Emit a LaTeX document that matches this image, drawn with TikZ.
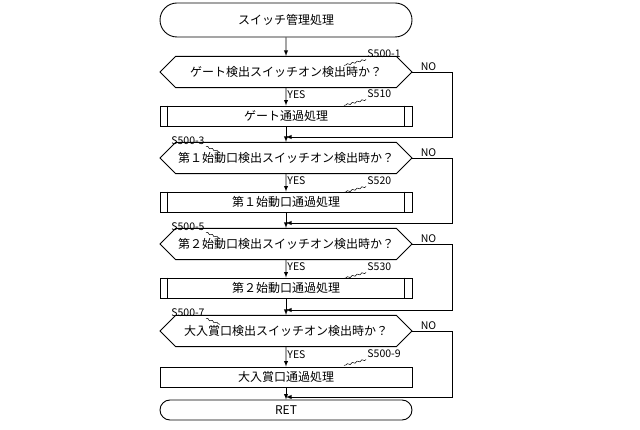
\documentclass[tikz,border=0pt]{standalone}
\usepackage{fontspec}
\setmainfont{Noto Sans CJK JP}
\usetikzlibrary{shapes.misc,decorations.pathmorphing}
\begin{document}
\begin{tikzpicture}[x=1pt,y=-1pt,font=\fontsize{12}{13}\selectfont,line width=0.9pt,
 term/.style={draw,rounded rectangle,minimum width=252pt,minimum height=34pt,inner sep=0pt},
 term2/.style={draw,rounded rectangle,minimum width=252pt,minimum height=20pt,inner sep=0pt},
 dec/.style={draw,chamfered rectangle,chamfered rectangle xsep=16pt,chamfered rectangle ysep=10pt,minimum width=252pt,minimum height=20pt,inner sep=0pt},
 proc/.style={draw,minimum width=252pt,minimum height=20pt,inner sep=0pt},
 sub/.style={proc,append after command={\pgfextra{\draw (\tikzlastnode.north west)++(8pt,0)--++(0,-20pt);\draw (\tikzlastnode.north east)++(-8pt,0)--++(0,-20pt);}}},
 arr/.style={-{latex}},
 lbl/.style={font=\fontsize{10.5}{12}\selectfont,inner sep=1pt},
 sq/.style={line width=0.5pt,decorate,decoration={snake,amplitude=0.8pt,segment length=5pt}}]
\useasboundingbox (0,0) rectangle (640,430);
\node[term] (t0) at (286,20) {スイッチ管理処理};
\node[dec] (d1) at (286,72) {ゲート検出スイッチオン検出時か？};
\node[sub] (p1) at (286,116) {ゲート通過処理};
\node[dec] (d2) at (286,158) {第１始動口検出スイッチオン検出時か？};
\node[sub] (p2) at (286,202) {第１始動口通過処理};
\node[dec] (d3) at (286,244) {第２始動口検出スイッチオン検出時か？};
\node[sub] (p3) at (286,288) {第２始動口通過処理};
\node[dec] (d4) at (286,331) {大入賞口検出スイッチオン検出時か？};
\node[proc] (p4) at (286,377) {大入賞口通過処理};
\node[term2] (t1) at (286,410) {RET};
\coordinate (j1) at (286,137);\coordinate (j2) at (286,223);\coordinate (j3) at (286,310);\coordinate (j4) at (286,397);
\draw[arr] (t0) -- (d1);
\foreach \d/\p/\j/\n in {d1/p1/j1/d2,d2/p2/j2/d3,d3/p3/j3/d4,d4/p4/j4/t1}{
 \draw[arr] (\d) -- node[right,lbl,pos=0.4]{YES} (\p);
 \draw (\p) -- (\j);
 \draw[arr] (\j) -- (\n);
 \draw[arr] (\d.east) -- ++(40,0) node[above,lbl,pos=0.4]{NO} |- (\j);
}
\node[lbl,anchor=west] (A1) at (366,54) {S500-1};
\node[lbl,anchor=west] (A2) at (366,94) {S510};
\node[lbl,anchor=west] (A3) at (366,181) {S520};
\node[lbl,anchor=west] (A4) at (366,267) {S530};
\node[lbl,anchor=west] (A5) at (366,354) {S500-9};
\foreach \a in {A1,A2,A3,A4,A5}{\draw[sq] (\a.south west) -- ++(-22,6);}
\node[lbl,anchor=east] (B1) at (206,141) {S500-3};
\node[lbl,anchor=east] (B2) at (206,227) {S500-5};
\node[lbl,anchor=east] (B3) at (206,313) {S500-7};
\foreach \b in {B1,B2,B3}{\draw[sq] (\b.south east) -- ++(14,6);}
\end{tikzpicture}
\end{document}
